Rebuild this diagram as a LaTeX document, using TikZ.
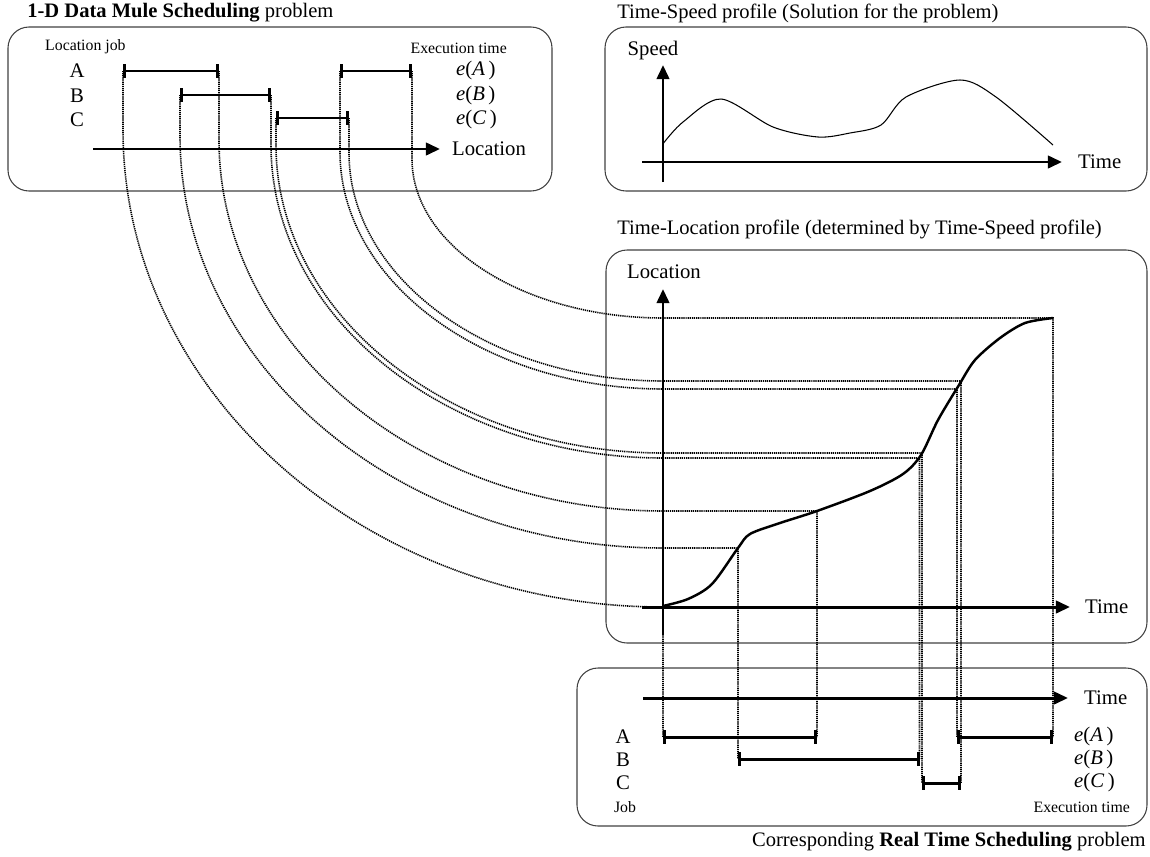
\documentclass[tikz,border=0pt]{standalone}
\usepackage{fontspec}
\setmainfont{Liberation Serif}
\usepackage{tikz}
\usetikzlibrary{arrows.meta}

\tikzset{
  panel/.style={draw=black!75, line width=0.6pt, rounded corners=0.42cm},
  axis/.style={line width=1.7pt, -{Triangle[length=8pt,width=7pt]}},
  jobbar/.style={line width=1.7pt, {Bar[width=7.5pt]}-{Bar[width=7.5pt]}},
  mapline/.style={dash pattern=on 0.7pt off 0.5pt, line width=0.9pt},
  big/.style={font=\fontsize{11.8}{13}\selectfont},
  small/.style={font=\fontsize{9}{11}\selectfont},
  ttl/.style={font=\fontsize{11.7}{13}\selectfont, inner sep=0pt},
}

\begin{document}
\begin{tikzpicture}[x=0.02cm, y=-0.02cm]
  \useasboundingbox (0,0) rectangle (1150,856);

  % Titles
  \node[ttl, anchor=base west] (tmule) at (27,17) {\textbf{1-D Data Mule Scheduling} problem};
  \node[ttl, anchor=base west] (tspeed) at (617,18) {Time-Speed profile (Solution for the problem)};
  \node[ttl, anchor=base west] (tloc) at (617,234) {Time-Location profile (determined by Time-Speed profile)};
  \node[ttl, anchor=base east] (treal) at (1146,846) {Corresponding \textbf{Real Time Scheduling} problem};

  % Panels
  \draw[panel] (8,27) rectangle (552,191);
  \draw[panel] (605,27) rectangle (1147,191);
  \draw[panel] (606,250) rectangle (1147,643);
  \draw[panel] (577,668) rectangle (1147,826);

  % mapping: location -> time -> schedule
  \foreach \xl/\ra/\yl/\t/\rb/\yo [count=\i] in {123/71/607/663/737/130, 180/95/548/738/759/136,
      219/71/511/817/737/140, 271/95/458/919.5/759/145, 276/118/453/922/783/145,
      340/71/389/957/737/152, 349/118/381/961/783/153, 412/71/318/1053/737/159} {
    \coordinate (src\i) at (\xl,\ra);
    \coordinate (dst\i) at (\t,\rb);
    \draw[mapline] (src\i) -- (\xl,\yo)
      .. controls (\xl,{\yo+0.55*(\yl-\yo)}) and ({663-0.55*(663-\xl)},\yl) .. (663,\yl)
      -- (\t,\yl) -- (dst\i);
  }

  % 1-D data mule problem
  \node[small, anchor=west] (ljob) at (39,47) {Location job};
  \node[small, anchor=east] (lexe) at (513,48) {Execution time};
  \foreach \r/\y in {A/71,B/96,C/120} {
    \node[big] (l\r) at (77,\y) {\r};
    \node[big, anchor=west] (le\r) at (450,\y) {\textit{e}(\textit{\r}\,)};
  }
  \coordinate (lx0) at (93,149);
  \coordinate (lx1) at (440,149);
  \draw[axis] (lx0) -- (lx1);
  \node[big, anchor=west] (llab) at (446,149) {Location};
  \draw[jobbar] (123,71) -- (219,71);
  \draw[jobbar] (340,71) -- (412,71);
  \draw[jobbar] (180,95) -- (271,95);
  \draw[jobbar] (276,118) -- (349,118);

  % time-speed profile
  \node[big] (slab) at (653,51) {Speed};
  \coordinate (sy0) at (663,182);
  \coordinate (sy1) at (663,65);
  \coordinate (sx0) at (642,162);
  \coordinate (sx1) at (1062,162);
  \draw[axis] (sy0) -- (sy1);
  \draw[axis] (sx0) -- (sx1);
  \node[big, anchor=west] (stime) at (1072,162) {Time};
  \draw[line width=0.6pt] plot[smooth] coordinates {(663.6,143) (683,122) (721,99) (773,127)
    (818,137) (850,133) (881,125) (906,97) (960,80) (996,97) (1053,145)};

  % time-location profile
  \node[big] (tlab) at (664,272) {Location};
  \coordinate (ty0) at (663,635);
  \coordinate (ty1) at (663,289);
  \coordinate (tx0) at (642,607);
  \coordinate (tx1) at (1070,607);
  \draw[axis] (ty0) -- (ty1);
  \draw[axis] (tx0) -- (tx1);
  \node[big, anchor=west] (ttime) at (1079,607) {Time};
  \draw[line width=1.4pt] plot[smooth] coordinates {(663,606) (688,599) (712,584) (738,548)
    (750,534) (780,523) (817,511) (870,491) (903,474) (921,455) (938,420) (959,385)
    (975,360) (1000,338) (1025,323) (1053,318)};

  % real time scheduling problem
  \coordinate (rx0) at (643,698);
  \coordinate (rx1) at (1068,698);
  \draw[axis] (rx0) -- (rx1);
  \node[big, anchor=west] (rtime) at (1078,698) {Time};
  \foreach \r/\y in {A/737,B/760,C/783} {
    \node[big] (r\r) at (623,\y) {\r};
    \node[big, anchor=west] (re\r) at (1068,\y) {\textit{e}(\textit{\r}\,)};
  }
  \node[small] (rjob) at (625,807) {Job};
  \node[small, anchor=east] (rexe) at (1136,807) {Execution time};
  \draw[jobbar] (663,737) -- (817,737);
  \draw[jobbar] (957,737) -- (1053,737);
  \draw[jobbar] (738,759) -- (919.5,759);
  \draw[jobbar] (922,783) -- (961,783);
\end{tikzpicture}
\end{document}
